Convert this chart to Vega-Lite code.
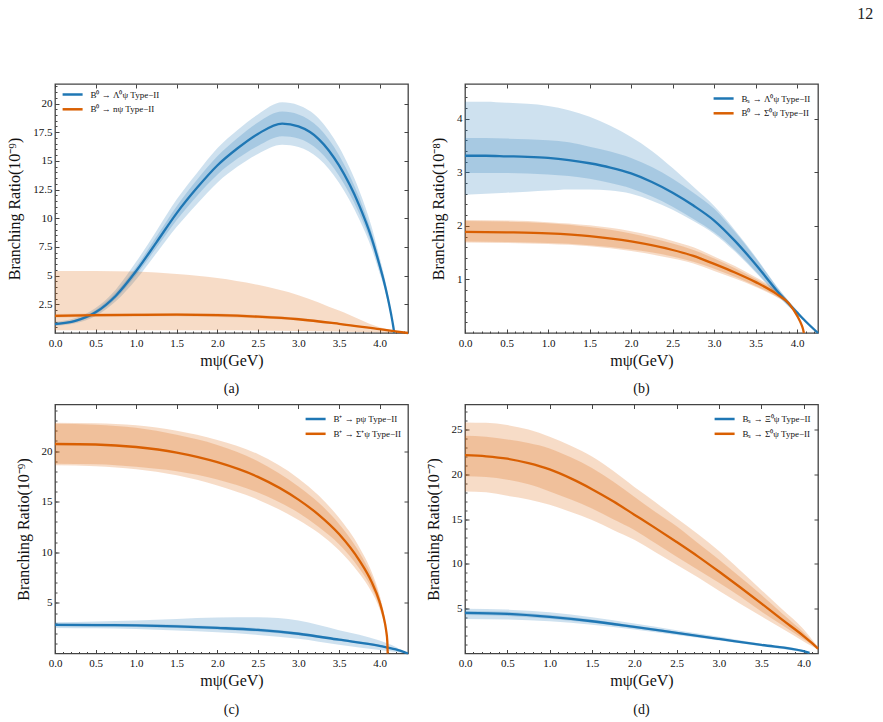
{
"$schema": "https://vega.github.io/schema/vega-lite/v6.json",
"background": "white",
"padding": {"left": 6, "top": 6, "right": 5, "bottom": 5},
"title": {"text": "12", "anchor": "end", "frame": "bounds", "fontSize": 16, "font": "Liberation Serif", "fontWeight": "normal", "color": "#222", "dx": 50, "offset": 60.5},
"config": {
  "font": "Liberation Serif",
  "view": {"stroke": "#444", "strokeWidth": 1.3},
  "axis": {"domain": false, "grid": false, "labelFont": "Liberation Serif", "labelFontSize": 11, "labelColor": "#111", "titleFont": "Liberation Serif", "titleFontSize": 16, "titleFontWeight": "normal", "titleColor": "#111", "tickColor": "#444", "tickWidth": 1, "labelFlush": false, "labelOverlap": false},
  "legend": {"labelFont": "Liberation Serif", "labelFontSize": 9, "labelColor": "#111", "symbolType": "M-1.667,0H1.667", "symbolStrokeWidth": 2.5, "symbolSize": 144, "symbolOffset": 7.1, "rowPadding": 1.8, "padding": 0, "offset": 5.7, "labelOffset": 10.3}
},
"resolve": {"scale": {"color": "independent", "fill": "independent"}},
"columns": 2,
"spacing": {"row": 5.5, "column": 10},
"datasets": {"d": [
{"p":"a","s":"B⁰ → Λ⁰ψ Type−II","x":0,"y":0.78,"l1":0.62,"h1":0.98,"l2":0.7,"h2":0.88},
{"p":"a","s":"B⁰ → Λ⁰ψ Type−II","x":0.25,"y":1.05,"l1":0.84,"h1":1.3,"l2":0.95,"h2":1.16},
{"p":"a","s":"B⁰ → Λ⁰ψ Type−II","x":0.5,"y":1.8,"l1":1.48,"h1":2.18,"l2":1.64,"h2":1.98},
{"p":"a","s":"B⁰ → Λ⁰ψ Type−II","x":0.75,"y":3.25,"l1":2.76,"h1":3.8,"l2":3.0,"h2":3.52},
{"p":"a","s":"B⁰ → Λ⁰ψ Type−II","x":1,"y":5.4,"l1":4.66,"h1":6.2,"l2":5.05,"h2":5.75},
{"p":"a","s":"B⁰ → Λ⁰ψ Type−II","x":1.25,"y":7.9,"l1":6.95,"h1":8.9,"l2":7.42,"h2":8.4},
{"p":"a","s":"B⁰ → Λ⁰ψ Type−II","x":1.5,"y":10.45,"l1":9.25,"h1":11.65,"l2":9.85,"h2":11.05},
{"p":"a","s":"B⁰ → Λ⁰ψ Type−II","x":1.75,"y":12.65,"l1":11.25,"h1":13.95,"l2":11.95,"h2":13.35},
{"p":"a","s":"B⁰ → Λ⁰ψ Type−II","x":2,"y":14.6,"l1":13.1,"h1":16.1,"l2":13.8,"h2":15.4},
{"p":"a","s":"B⁰ → Λ⁰ψ Type−II","x":2.25,"y":16.1,"l1":14.5,"h1":17.7,"l2":15.2,"h2":17.0},
{"p":"a","s":"B⁰ → Λ⁰ψ Type−II","x":2.5,"y":17.35,"l1":15.6,"h1":19.05,"l2":16.3,"h2":18.35},
{"p":"a","s":"B⁰ → Λ⁰ψ Type−II","x":2.8,"y":18.25,"l1":16.4,"h1":20.1,"l2":17.15,"h2":19.3},
{"p":"a","s":"B⁰ → Λ⁰ψ Type−II","x":3,"y":18.0,"l1":16.2,"h1":19.85,"l2":16.95,"h2":19.05},
{"p":"a","s":"B⁰ → Λ⁰ψ Type−II","x":3.25,"y":16.9,"l1":15.2,"h1":18.7,"l2":15.9,"h2":17.9},
{"p":"a","s":"B⁰ → Λ⁰ψ Type−II","x":3.5,"y":14.6,"l1":13.1,"h1":16.2,"l2":13.7,"h2":15.5},
{"p":"a","s":"B⁰ → Λ⁰ψ Type−II","x":3.75,"y":11.1,"l1":9.9,"h1":12.4,"l2":10.4,"h2":11.8},
{"p":"a","s":"B⁰ → Λ⁰ψ Type−II","x":3.9,"y":8.3,"l1":7.4,"h1":9.3,"l2":7.8,"h2":8.8},
{"p":"a","s":"B⁰ → Λ⁰ψ Type−II","x":4,"y":5.9,"l1":5.2,"h1":6.6,"l2":5.5,"h2":6.3},
{"p":"a","s":"B⁰ → Λ⁰ψ Type−II","x":4.05,"y":4.6,"l1":4.1,"h1":5.2,"l2":4.3,"h2":4.9},
{"p":"a","s":"B⁰ → Λ⁰ψ Type−II","x":4.1,"y":3.1,"l1":2.7,"h1":3.5,"l2":2.9,"h2":3.3},
{"p":"a","s":"B⁰ → Λ⁰ψ Type−II","x":4.14,"y":1.7,"l1":1.5,"h1":1.9,"l2":1.6,"h2":1.8},
{"p":"a","s":"B⁰ → Λ⁰ψ Type−II","x":4.17,"y":0.5,"l1":0.4,"h1":0.6,"l2":0.45,"h2":0.55},
{"p":"a","s":"B⁰ → Λ⁰ψ Type−II","x":4.18,"y":0,"l1":0,"h1":0,"l2":0,"h2":0},
{"p":"a","s":"B⁰ → nψ Type−II","x":0,"y":1.5,"l1":0.25,"h1":5.4,"l2":1.36,"h2":1.66},
{"p":"a","s":"B⁰ → nψ Type−II","x":0.5,"y":1.55,"l1":0.25,"h1":5.4,"l2":1.4,"h2":1.7},
{"p":"a","s":"B⁰ → nψ Type−II","x":1,"y":1.58,"l1":0.25,"h1":5.35,"l2":1.43,"h2":1.73},
{"p":"a","s":"B⁰ → nψ Type−II","x":1.5,"y":1.6,"l1":0.25,"h1":5.15,"l2":1.45,"h2":1.75},
{"p":"a","s":"B⁰ → nψ Type−II","x":2,"y":1.55,"l1":0.24,"h1":4.8,"l2":1.4,"h2":1.7},
{"p":"a","s":"B⁰ → nψ Type−II","x":2.5,"y":1.42,"l1":0.22,"h1":4.2,"l2":1.28,"h2":1.56},
{"p":"a","s":"B⁰ → nψ Type−II","x":3,"y":1.2,"l1":0.18,"h1":3.3,"l2":1.08,"h2":1.32},
{"p":"a","s":"B⁰ → nψ Type−II","x":3.5,"y":0.8,"l1":0.12,"h1":1.95,"l2":0.72,"h2":0.88},
{"p":"a","s":"B⁰ → nψ Type−II","x":4,"y":0.33,"l1":0.05,"h1":0.5,"l2":0.3,"h2":0.37},
{"p":"a","s":"B⁰ → nψ Type−II","x":4.35,"y":0,"l1":0,"h1":0,"l2":0,"h2":0},
{"p":"b","s":"Bₛ → Λ⁰ψ Type−II","x":0,"y":3.31,"l1":2.58,"h1":4.32,"l2":2.99,"h2":3.64},
{"p":"b","s":"Bₛ → Λ⁰ψ Type−II","x":0.25,"y":3.31,"l1":2.6,"h1":4.32,"l2":2.99,"h2":3.64},
{"p":"b","s":"Bₛ → Λ⁰ψ Type−II","x":0.5,"y":3.3,"l1":2.62,"h1":4.3,"l2":2.99,"h2":3.63},
{"p":"b","s":"Bₛ → Λ⁰ψ Type−II","x":0.75,"y":3.29,"l1":2.64,"h1":4.28,"l2":2.98,"h2":3.62},
{"p":"b","s":"Bₛ → Λ⁰ψ Type−II","x":1,"y":3.27,"l1":2.66,"h1":4.24,"l2":2.96,"h2":3.6},
{"p":"b","s":"Bₛ → Λ⁰ψ Type−II","x":1.25,"y":3.23,"l1":2.68,"h1":4.16,"l2":2.93,"h2":3.56},
{"p":"b","s":"Bₛ → Λ⁰ψ Type−II","x":1.5,"y":3.17,"l1":2.68,"h1":4.04,"l2":2.88,"h2":3.48},
{"p":"b","s":"Bₛ → Λ⁰ψ Type−II","x":1.75,"y":3.09,"l1":2.66,"h1":3.87,"l2":2.8,"h2":3.39},
{"p":"b","s":"Bₛ → Λ⁰ψ Type−II","x":2,"y":2.98,"l1":2.6,"h1":3.66,"l2":2.7,"h2":3.27},
{"p":"b","s":"Bₛ → Λ⁰ψ Type−II","x":2.25,"y":2.82,"l1":2.47,"h1":3.4,"l2":2.55,"h2":3.1},
{"p":"b","s":"Bₛ → Λ⁰ψ Type−II","x":2.5,"y":2.62,"l1":2.3,"h1":3.08,"l2":2.36,"h2":2.88},
{"p":"b","s":"Bₛ → Λ⁰ψ Type−II","x":2.75,"y":2.38,"l1":2.09,"h1":2.73,"l2":2.13,"h2":2.62},
{"p":"b","s":"Bₛ → Λ⁰ψ Type−II","x":3,"y":2.1,"l1":1.85,"h1":2.37,"l2":1.88,"h2":2.32},
{"p":"b","s":"Bₛ → Λ⁰ψ Type−II","x":3.25,"y":1.72,"l1":1.52,"h1":1.92,"l2":1.55,"h2":1.89},
{"p":"b","s":"Bₛ → Λ⁰ψ Type−II","x":3.5,"y":1.28,"l1":1.13,"h1":1.42,"l2":1.15,"h2":1.4},
{"p":"b","s":"Bₛ → Λ⁰ψ Type−II","x":3.75,"y":0.8,"l1":0.72,"h1":0.88,"l2":0.73,"h2":0.87},
{"p":"b","s":"Bₛ → Λ⁰ψ Type−II","x":4,"y":0.38,"l1":0.34,"h1":0.42,"l2":0.35,"h2":0.41},
{"p":"b","s":"Bₛ → Λ⁰ψ Type−II","x":4.1,"y":0.22,"l1":0.2,"h1":0.24,"l2":0.2,"h2":0.24},
{"p":"b","s":"Bₛ → Λ⁰ψ Type−II","x":4.25,"y":0,"l1":0,"h1":0,"l2":0,"h2":0},
{"p":"b","s":"B⁰ → Σ⁰ψ Type−II","x":0,"y":1.89,"l1":1.69,"h1":2.11,"l2":1.71,"h2":2.09},
{"p":"b","s":"B⁰ → Σ⁰ψ Type−II","x":0.5,"y":1.88,"l1":1.68,"h1":2.1,"l2":1.7,"h2":2.08},
{"p":"b","s":"B⁰ → Σ⁰ψ Type−II","x":1,"y":1.86,"l1":1.66,"h1":2.07,"l2":1.68,"h2":2.05},
{"p":"b","s":"B⁰ → Σ⁰ψ Type−II","x":1.5,"y":1.81,"l1":1.62,"h1":2.01,"l2":1.64,"h2":1.98},
{"p":"b","s":"B⁰ → Σ⁰ψ Type−II","x":2,"y":1.71,"l1":1.53,"h1":1.9,"l2":1.56,"h2":1.86},
{"p":"b","s":"B⁰ → Σ⁰ψ Type−II","x":2.5,"y":1.55,"l1":1.39,"h1":1.72,"l2":1.43,"h2":1.67},
{"p":"b","s":"B⁰ → Σ⁰ψ Type−II","x":2.75,"y":1.44,"l1":1.3,"h1":1.6,"l2":1.33,"h2":1.55},
{"p":"b","s":"B⁰ → Σ⁰ψ Type−II","x":3,"y":1.29,"l1":1.16,"h1":1.43,"l2":1.2,"h2":1.39},
{"p":"b","s":"B⁰ → Σ⁰ψ Type−II","x":3.25,"y":1.13,"l1":1.02,"h1":1.25,"l2":1.05,"h2":1.21},
{"p":"b","s":"B⁰ → Σ⁰ψ Type−II","x":3.5,"y":0.95,"l1":0.86,"h1":1.04,"l2":0.88,"h2":1.01},
{"p":"b","s":"B⁰ → Σ⁰ψ Type−II","x":3.75,"y":0.73,"l1":0.67,"h1":0.8,"l2":0.68,"h2":0.78},
{"p":"b","s":"B⁰ → Σ⁰ψ Type−II","x":3.9,"y":0.55,"l1":0.51,"h1":0.59,"l2":0.52,"h2":0.58},
{"p":"b","s":"B⁰ → Σ⁰ψ Type−II","x":4,"y":0.32,"l1":0.3,"h1":0.35,"l2":0.3,"h2":0.34},
{"p":"b","s":"B⁰ → Σ⁰ψ Type−II","x":4.05,"y":0.16,"l1":0.15,"h1":0.17,"l2":0.15,"h2":0.17},
{"p":"b","s":"B⁰ → Σ⁰ψ Type−II","x":4.07,"y":0.07,"l1":0.06,"h1":0.08,"l2":0.06,"h2":0.08},
{"p":"b","s":"B⁰ → Σ⁰ψ Type−II","x":4.08,"y":0,"l1":0,"h1":0,"l2":0,"h2":0},
{"p":"c","s":"B⁺ → pψ Type−II","x":0,"y":2.83,"l1":2.53,"h1":3.09,"l2":2.68,"h2":2.98},
{"p":"c","s":"B⁺ → pψ Type−II","x":0.5,"y":2.81,"l1":2.49,"h1":3.17,"l2":2.66,"h2":2.96},
{"p":"c","s":"B⁺ → pψ Type−II","x":1,"y":2.77,"l1":2.43,"h1":3.26,"l2":2.61,"h2":2.92},
{"p":"c","s":"B⁺ → pψ Type−II","x":1.5,"y":2.68,"l1":2.28,"h1":3.42,"l2":2.52,"h2":2.84},
{"p":"c","s":"B⁺ → pψ Type−II","x":2,"y":2.53,"l1":2.1,"h1":3.55,"l2":2.37,"h2":2.7},
{"p":"c","s":"B⁺ → pψ Type−II","x":2.5,"y":2.33,"l1":1.84,"h1":3.58,"l2":2.16,"h2":2.5},
{"p":"c","s":"B⁺ → pψ Type−II","x":3,"y":1.95,"l1":1.45,"h1":3.26,"l2":1.8,"h2":2.1},
{"p":"c","s":"B⁺ → pψ Type−II","x":3.5,"y":1.36,"l1":0.86,"h1":2.3,"l2":1.24,"h2":1.48},
{"p":"c","s":"B⁺ → pψ Type−II","x":4,"y":0.76,"l1":0.35,"h1":1.28,"l2":0.68,"h2":0.85},
{"p":"c","s":"B⁺ → pψ Type−II","x":4.2,"y":0.4,"l1":0.15,"h1":0.65,"l2":0.35,"h2":0.45},
{"p":"c","s":"B⁺ → pψ Type−II","x":4.35,"y":0,"l1":0,"h1":0,"l2":0,"h2":0},
{"p":"c","s":"B⁺ → Σ⁺ψ Type−II","x":0,"y":20.7,"l1":18.6,"h1":22.8,"l2":18.75,"h2":22.7},
{"p":"c","s":"B⁺ → Σ⁺ψ Type−II","x":0.5,"y":20.65,"l1":18.5,"h1":22.75,"l2":18.7,"h2":22.6},
{"p":"c","s":"B⁺ → Σ⁺ψ Type−II","x":1,"y":20.4,"l1":18.2,"h1":22.55,"l2":18.45,"h2":22.3},
{"p":"c","s":"B⁺ → Σ⁺ψ Type−II","x":1.5,"y":19.85,"l1":17.6,"h1":22.0,"l2":18.0,"h2":21.6},
{"p":"c","s":"B⁺ → Σ⁺ψ Type−II","x":2,"y":18.9,"l1":16.6,"h1":21.1,"l2":17.2,"h2":20.6},
{"p":"c","s":"B⁺ → Σ⁺ψ Type−II","x":2.5,"y":17.45,"l1":15.2,"h1":19.7,"l2":15.9,"h2":19.0},
{"p":"c","s":"B⁺ → Σ⁺ψ Type−II","x":3,"y":15.2,"l1":13.2,"h1":17.3,"l2":13.9,"h2":16.5},
{"p":"c","s":"B⁺ → Σ⁺ψ Type−II","x":3.25,"y":13.7,"l1":11.9,"h1":15.6,"l2":12.5,"h2":14.9},
{"p":"c","s":"B⁺ → Σ⁺ψ Type−II","x":3.5,"y":11.8,"l1":10.2,"h1":13.4,"l2":10.8,"h2":12.8},
{"p":"c","s":"B⁺ → Σ⁺ψ Type−II","x":3.75,"y":9.2,"l1":7.9,"h1":10.5,"l2":8.4,"h2":10.0},
{"p":"c","s":"B⁺ → Σ⁺ψ Type−II","x":3.9,"y":7.1,"l1":6.1,"h1":8.1,"l2":6.5,"h2":7.7},
{"p":"c","s":"B⁺ → Σ⁺ψ Type−II","x":4,"y":5.1,"l1":4.4,"h1":5.8,"l2":4.65,"h2":5.55},
{"p":"c","s":"B⁺ → Σ⁺ψ Type−II","x":4.05,"y":3.6,"l1":3.1,"h1":4.1,"l2":3.3,"h2":3.9},
{"p":"c","s":"B⁺ → Σ⁺ψ Type−II","x":4.08,"y":2.3,"l1":2.0,"h1":2.6,"l2":2.1,"h2":2.5},
{"p":"c","s":"B⁺ → Σ⁺ψ Type−II","x":4.095,"y":1.2,"l1":1.0,"h1":1.4,"l2":1.1,"h2":1.3},
{"p":"c","s":"B⁺ → Σ⁺ψ Type−II","x":4.1,"y":0,"l1":0,"h1":0,"l2":0,"h2":0},
{"p":"d","s":"Bₛ → Ξ⁰ψ Type−II","x":0,"y":4.53,"l1":3.86,"h1":5.0,"l2":4.3,"h2":4.75},
{"p":"d","s":"Bₛ → Ξ⁰ψ Type−II","x":0.5,"y":4.42,"l1":3.8,"h1":4.9,"l2":4.2,"h2":4.65},
{"p":"d","s":"Bₛ → Ξ⁰ψ Type−II","x":1,"y":4.08,"l1":3.6,"h1":4.6,"l2":3.88,"h2":4.3},
{"p":"d","s":"Bₛ → Ξ⁰ψ Type−II","x":1.5,"y":3.6,"l1":3.2,"h1":4.05,"l2":3.42,"h2":3.8},
{"p":"d","s":"Bₛ → Ξ⁰ψ Type−II","x":2,"y":2.97,"l1":2.67,"h1":3.34,"l2":2.82,"h2":3.13},
{"p":"d","s":"Bₛ → Ξ⁰ψ Type−II","x":2.5,"y":2.3,"l1":2.06,"h1":2.6,"l2":2.18,"h2":2.43},
{"p":"d","s":"Bₛ → Ξ⁰ψ Type−II","x":3,"y":1.63,"l1":1.45,"h1":1.86,"l2":1.54,"h2":1.73},
{"p":"d","s":"Bₛ → Ξ⁰ψ Type−II","x":3.5,"y":0.96,"l1":0.82,"h1":1.1,"l2":0.9,"h2":1.02},
{"p":"d","s":"Bₛ → Ξ⁰ψ Type−II","x":4,"y":0.26,"l1":0.15,"h1":0.37,"l2":0.22,"h2":0.3},
{"p":"d","s":"Bₛ → Ξ⁰ψ Type−II","x":4.07,"y":0.07,"l1":0.03,"h1":0.1,"l2":0.05,"h2":0.09},
{"p":"d","s":"Bₛ → Σ⁰ψ Type−II","x":0,"y":22.15,"l1":18.1,"h1":25.8,"l2":19.8,"h2":24.3},
{"p":"d","s":"Bₛ → Σ⁰ψ Type−II","x":0.25,"y":22.02,"l1":18.0,"h1":25.75,"l2":19.7,"h2":24.2},
{"p":"d","s":"Bₛ → Σ⁰ψ Type−II","x":0.5,"y":21.75,"l1":17.6,"h1":25.5,"l2":19.4,"h2":23.9},
{"p":"d","s":"Bₛ → Σ⁰ψ Type−II","x":0.75,"y":21.25,"l1":17.2,"h1":25.0,"l2":18.9,"h2":23.5},
{"p":"d","s":"Bₛ → Σ⁰ψ Type−II","x":1,"y":20.55,"l1":16.6,"h1":24.2,"l2":18.1,"h2":22.9},
{"p":"d","s":"Bₛ → Σ⁰ψ Type−II","x":1.25,"y":19.55,"l1":15.8,"h1":23.2,"l2":17.2,"h2":21.9},
{"p":"d","s":"Bₛ → Σ⁰ψ Type−II","x":1.5,"y":18.35,"l1":14.9,"h1":22.0,"l2":16.2,"h2":20.7},
{"p":"d","s":"Bₛ → Σ⁰ψ Type−II","x":1.75,"y":17.0,"l1":13.8,"h1":20.4,"l2":15.0,"h2":19.2},
{"p":"d","s":"Bₛ → Σ⁰ψ Type−II","x":2,"y":15.5,"l1":12.7,"h1":18.6,"l2":13.8,"h2":17.5},
{"p":"d","s":"Bₛ → Σ⁰ψ Type−II","x":2.25,"y":14.0,"l1":11.3,"h1":16.9,"l2":12.3,"h2":15.8},
{"p":"d","s":"Bₛ → Σ⁰ψ Type−II","x":2.5,"y":12.45,"l1":9.9,"h1":15.1,"l2":10.8,"h2":14.2},
{"p":"d","s":"Bₛ → Σ⁰ψ Type−II","x":2.75,"y":10.85,"l1":8.5,"h1":13.35,"l2":9.35,"h2":12.35},
{"p":"d","s":"Bₛ → Σ⁰ψ Type−II","x":3,"y":9.15,"l1":7.0,"h1":11.45,"l2":7.9,"h2":10.5},
{"p":"d","s":"Bₛ → Σ⁰ψ Type−II","x":3.25,"y":7.4,"l1":5.55,"h1":9.3,"l2":6.35,"h2":8.55},
{"p":"d","s":"Bₛ → Σ⁰ψ Type−II","x":3.5,"y":5.6,"l1":4.15,"h1":7.1,"l2":4.7,"h2":6.55},
{"p":"d","s":"Bₛ → Σ⁰ψ Type−II","x":3.75,"y":3.75,"l1":2.75,"h1":4.9,"l2":3.15,"h2":4.45},
{"p":"d","s":"Bₛ → Σ⁰ψ Type−II","x":4,"y":1.95,"l1":1.35,"h1":2.7,"l2":1.6,"h2":2.35},
{"p":"d","s":"Bₛ → Σ⁰ψ Type−II","x":4.1,"y":1.15,"l1":0.8,"h1":1.55,"l2":0.95,"h2":1.38},
{"p":"d","s":"Bₛ → Σ⁰ψ Type−II","x":4.17,"y":0.55,"l1":0.4,"h1":0.72,"l2":0.46,"h2":0.64}
]},
"concat": [
{
 "width": 353, "height": 249,
 "title": {"text": "(a)", "orient": "bottom", "offset": 14, "frame": "group", "anchor": "middle", "fontSize": 14, "fontWeight": "normal", "font": "Liberation Serif", "color": "#111"},
 "data": {"name": "d"},
 "transform": [{"filter": "datum.p == 'a'"}],
 "resolve": {"axis": {"x": "independent", "y": "independent"}},
 "layer": [
  {"mark": {"type": "area", "interpolate": "monotone", "fillOpacity": 0.22},
   "encoding": {
    "x": {"field": "x", "type": "quantitative", "scale": {"domain": [0, 4.35], "nice": false, "zero": false}, "axis": {"orient": "bottom", "values": [0,0.5,1,1.5,2,2.5,3,3.5,4], "format": ".1f", "tickSize": -4, "labelPadding": 8, "title": "mψ(GeV)", "titlePadding": 4}},
    "y": {"field": "l1", "type": "quantitative", "scale": {"domain": [0, 21.7], "nice": false}, "axis": {"orient": "left", "values": [2.5,5,7.5,10,12.5,15,17.5,20], "format": ".3~g", "tickSize": -4, "labelPadding": 7, "title": "Branching Ratio(10⁻⁹)", "titlePadding": 10}},
    "y2": {"field": "h1"},
    "fill": {"field": "s", "type": "nominal", "scale": {"domain": ["B⁰ → nψ Type−II", "B⁰ → Λ⁰ψ Type−II"], "range": ["#d95f02", "#1f77b4"]}, "legend": null}
   }},
  {"mark": {"type": "area", "interpolate": "monotone", "fillOpacity": 0.22},
   "encoding": {
    "x": {"field": "x", "type": "quantitative", "scale": {"domain": [0, 4.35], "nice": false, "zero": false}, "axis": {"orient": "bottom", "values": [0.1,0.2,0.3,0.4,0.5,0.6,0.7,0.8,0.9,1,1.1,1.2,1.3,1.4,1.5,1.6,1.7,1.8,1.9,2,2.1,2.2,2.3,2.4,2.5,2.6,2.7,2.8,2.9,3,3.1,3.2,3.3,3.4,3.5,3.6,3.7,3.8,3.9,4,4.1,4.2,4.3], "labels": false, "tickSize": -2, "title": null}},
    "y": {"field": "l2", "type": "quantitative", "scale": {"domain": [0, 21.7], "nice": false}, "axis": {"orient": "left", "values": [0.5,1,1.5,2,2.5,3,3.5,4,4.5,5,5.5,6,6.5,7,7.5,8,8.5,9,9.5,10,10.5,11,11.5,12,12.5,13,13.5,14,14.5,15,15.5,16,16.5,17,17.5,18,18.5,19,19.5,20,20.5,21,21.5], "labels": false, "tickSize": -2, "title": null}},
    "y2": {"field": "h2"},
    "fill": {"field": "s", "type": "nominal", "scale": {"domain": ["B⁰ → nψ Type−II", "B⁰ → Λ⁰ψ Type−II"], "range": ["#d95f02", "#1f77b4"]}, "legend": null}
   }},
  {"mark": {"type": "line", "interpolate": "monotone", "strokeWidth": 2.3},
   "encoding": {
    "x": {"field": "x", "type": "quantitative", "scale": {"domain": [0, 4.35], "nice": false, "zero": false}, "axis": {"orient": "top", "values": [0,0.5,1,1.5,2,2.5,3,3.5,4], "labels": false, "tickSize": -4, "title": null}},
    "y": {"field": "y", "type": "quantitative", "scale": {"domain": [0, 21.7], "nice": false}, "axis": {"orient": "right", "values": [2.5,5,7.5,10,12.5,15,17.5,20], "labels": false, "tickSize": -4, "title": null}},
    "color": {"field": "s", "type": "nominal", "scale": {"domain": ["B⁰ → Λ⁰ψ Type−II", "B⁰ → nψ Type−II"], "range": ["#1f77b4", "#d95f02"]}, "legend": {"orient": "top-left", "title": null, "offset": 3.4}}
   }}
 ]
},
{
 "width": 353, "height": 249,
 "title": {"text": "(b)", "orient": "bottom", "offset": 14, "frame": "group", "anchor": "middle", "fontSize": 14, "fontWeight": "normal", "font": "Liberation Serif", "color": "#111"},
 "data": {"name": "d"},
 "transform": [{"filter": "datum.p == 'b'"}],
 "resolve": {"axis": {"x": "independent", "y": "independent"}},
 "layer": [
  {"mark": {"type": "area", "interpolate": "monotone", "fillOpacity": 0.22},
   "encoding": {
    "x": {"field": "x", "type": "quantitative", "scale": {"domain": [0, 4.25], "nice": false, "zero": false}, "axis": {"orient": "bottom", "values": [0,0.5,1,1.5,2,2.5,3,3.5,4], "format": ".1f", "tickSize": -4, "labelPadding": 8, "title": "mψ(GeV)", "titlePadding": 4}},
    "y": {"field": "l1", "type": "quantitative", "scale": {"domain": [0, 4.65], "nice": false}, "axis": {"orient": "left", "values": [1,2,3,4], "format": ".3~g", "tickSize": -4, "labelPadding": 7, "title": "Branching Ratio(10⁻⁸)", "titlePadding": 10}},
    "y2": {"field": "h1"},
    "fill": {"field": "s", "type": "nominal", "scale": {"domain": ["B⁰ → Σ⁰ψ Type−II", "Bₛ → Λ⁰ψ Type−II"], "range": ["#d95f02", "#1f77b4"]}, "legend": null}
   }},
  {"mark": {"type": "area", "interpolate": "monotone", "fillOpacity": 0.22},
   "encoding": {
    "x": {"field": "x", "type": "quantitative", "scale": {"domain": [0, 4.25], "nice": false, "zero": false}, "axis": {"orient": "bottom", "values": [0.1,0.2,0.3,0.4,0.5,0.6,0.7,0.8,0.9,1,1.1,1.2,1.3,1.4,1.5,1.6,1.7,1.8,1.9,2,2.1,2.2,2.3,2.4,2.5,2.6,2.7,2.8,2.9,3,3.1,3.2,3.3,3.4,3.5,3.6,3.7,3.8,3.9,4,4.1,4.2], "labels": false, "tickSize": -2, "title": null}},
    "y": {"field": "l2", "type": "quantitative", "scale": {"domain": [0, 4.65], "nice": false}, "axis": {"orient": "left", "values": [0.2,0.4,0.6,0.8,1,1.2,1.4,1.6,1.8,2,2.2,2.4,2.6,2.8,3,3.2,3.4,3.6,3.8,4,4.2,4.4,4.6], "labels": false, "tickSize": -2, "title": null}},
    "y2": {"field": "h2"},
    "fill": {"field": "s", "type": "nominal", "scale": {"domain": ["B⁰ → Σ⁰ψ Type−II", "Bₛ → Λ⁰ψ Type−II"], "range": ["#d95f02", "#1f77b4"]}, "legend": null}
   }},
  {"mark": {"type": "line", "interpolate": "monotone", "strokeWidth": 2.3},
   "encoding": {
    "x": {"field": "x", "type": "quantitative", "scale": {"domain": [0, 4.25], "nice": false, "zero": false}, "axis": {"orient": "top", "values": [0,0.5,1,1.5,2,2.5,3,3.5,4], "labels": false, "tickSize": -4, "title": null}},
    "y": {"field": "y", "type": "quantitative", "scale": {"domain": [0, 4.65], "nice": false}, "axis": {"orient": "right", "values": [1,2,3,4], "labels": false, "tickSize": -4, "title": null}},
    "color": {"field": "s", "type": "nominal", "scale": {"domain": ["Bₛ → Λ⁰ψ Type−II", "B⁰ → Σ⁰ψ Type−II"], "range": ["#1f77b4", "#d95f02"]}, "legend": {"orient": "top-right", "title": null, "offset": 7}}
   }}
 ]
},
{
 "width": 353, "height": 249,
 "title": {"text": "(c)", "orient": "bottom", "offset": 14, "frame": "group", "anchor": "middle", "fontSize": 14, "fontWeight": "normal", "font": "Liberation Serif", "color": "#111"},
 "data": {"name": "d"},
 "transform": [{"filter": "datum.p == 'c'"}],
 "resolve": {"axis": {"x": "independent", "y": "independent"}},
 "layer": [
  {"mark": {"type": "area", "interpolate": "monotone", "fillOpacity": 0.22},
   "encoding": {
    "x": {"field": "x", "type": "quantitative", "scale": {"domain": [0, 4.35], "nice": false, "zero": false}, "axis": {"orient": "bottom", "values": [0,0.5,1,1.5,2,2.5,3,3.5,4], "format": ".1f", "tickSize": -4, "labelPadding": 8, "title": "mψ(GeV)", "titlePadding": 4}},
    "y": {"field": "l1", "type": "quantitative", "scale": {"domain": [0, 24.6], "nice": false}, "axis": {"orient": "left", "values": [5,10,15,20], "format": ".3~g", "tickSize": -4, "labelPadding": 7, "title": "Branching Ratio(10⁻⁹)", "titlePadding": 10}},
    "y2": {"field": "h1"},
    "fill": {"field": "s", "type": "nominal", "scale": {"domain": ["B⁺ → Σ⁺ψ Type−II", "B⁺ → pψ Type−II"], "range": ["#d95f02", "#1f77b4"]}, "legend": null}
   }},
  {"mark": {"type": "area", "interpolate": "monotone", "fillOpacity": 0.22},
   "encoding": {
    "x": {"field": "x", "type": "quantitative", "scale": {"domain": [0, 4.35], "nice": false, "zero": false}, "axis": {"orient": "bottom", "values": [0.1,0.2,0.3,0.4,0.5,0.6,0.7,0.8,0.9,1,1.1,1.2,1.3,1.4,1.5,1.6,1.7,1.8,1.9,2,2.1,2.2,2.3,2.4,2.5,2.6,2.7,2.8,2.9,3,3.1,3.2,3.3,3.4,3.5,3.6,3.7,3.8,3.9,4,4.1,4.2,4.3], "labels": false, "tickSize": -2, "title": null}},
    "y": {"field": "l2", "type": "quantitative", "scale": {"domain": [0, 24.6], "nice": false}, "axis": {"orient": "left", "values": [1,2,3,4,5,6,7,8,9,10,11,12,13,14,15,16,17,18,19,20,21,22,23,24], "labels": false, "tickSize": -2, "title": null}},
    "y2": {"field": "h2"},
    "fill": {"field": "s", "type": "nominal", "scale": {"domain": ["B⁺ → Σ⁺ψ Type−II", "B⁺ → pψ Type−II"], "range": ["#d95f02", "#1f77b4"]}, "legend": null}
   }},
  {"mark": {"type": "line", "interpolate": "monotone", "strokeWidth": 2.3},
   "encoding": {
    "x": {"field": "x", "type": "quantitative", "scale": {"domain": [0, 4.35], "nice": false, "zero": false}, "axis": {"orient": "top", "values": [0,0.5,1,1.5,2,2.5,3,3.5,4], "labels": false, "tickSize": -4, "title": null}},
    "y": {"field": "y", "type": "quantitative", "scale": {"domain": [0, 24.6], "nice": false}, "axis": {"orient": "right", "values": [5,10,15,20], "labels": false, "tickSize": -4, "title": null}},
    "color": {"field": "s", "type": "nominal", "scale": {"domain": ["B⁺ → pψ Type−II", "B⁺ → Σ⁺ψ Type−II"], "range": ["#1f77b4", "#d95f02"]}, "legend": {"orient": "top-right", "title": null, "offset": 7}}
   }}
 ]
},
{
 "width": 353, "height": 249,
 "title": {"text": "(d)", "orient": "bottom", "offset": 14, "frame": "group", "anchor": "middle", "fontSize": 14, "fontWeight": "normal", "font": "Liberation Serif", "color": "#111"},
 "data": {"name": "d"},
 "transform": [{"filter": "datum.p == 'd'"}],
 "resolve": {"axis": {"x": "independent", "y": "independent"}},
 "layer": [
  {"mark": {"type": "area", "interpolate": "monotone", "fillOpacity": 0.22},
   "encoding": {
    "x": {"field": "x", "type": "quantitative", "scale": {"domain": [0, 4.17], "nice": false, "zero": false}, "axis": {"orient": "bottom", "values": [0,0.5,1,1.5,2,2.5,3,3.5,4], "format": ".1f", "tickSize": -4, "labelPadding": 8, "title": "mψ(GeV)", "titlePadding": 4}},
    "y": {"field": "l1", "type": "quantitative", "scale": {"domain": [0, 27.8], "nice": false}, "axis": {"orient": "left", "values": [5,10,15,20,25], "format": ".3~g", "tickSize": -4, "labelPadding": 7, "title": "Branching Ratio(10⁻⁷)", "titlePadding": 10}},
    "y2": {"field": "h1"},
    "fill": {"field": "s", "type": "nominal", "scale": {"domain": ["Bₛ → Σ⁰ψ Type−II", "Bₛ → Ξ⁰ψ Type−II"], "range": ["#d95f02", "#1f77b4"]}, "legend": null}
   }},
  {"mark": {"type": "area", "interpolate": "monotone", "fillOpacity": 0.22},
   "encoding": {
    "x": {"field": "x", "type": "quantitative", "scale": {"domain": [0, 4.17], "nice": false, "zero": false}, "axis": {"orient": "bottom", "values": [0.1,0.2,0.3,0.4,0.5,0.6,0.7,0.8,0.9,1,1.1,1.2,1.3,1.4,1.5,1.6,1.7,1.8,1.9,2,2.1,2.2,2.3,2.4,2.5,2.6,2.7,2.8,2.9,3,3.1,3.2,3.3,3.4,3.5,3.6,3.7,3.8,3.9,4,4.1], "labels": false, "tickSize": -2, "title": null}},
    "y": {"field": "l2", "type": "quantitative", "scale": {"domain": [0, 27.8], "nice": false}, "axis": {"orient": "left", "values": [1,2,3,4,5,6,7,8,9,10,11,12,13,14,15,16,17,18,19,20,21,22,23,24,25,26,27], "labels": false, "tickSize": -2, "title": null}},
    "y2": {"field": "h2"},
    "fill": {"field": "s", "type": "nominal", "scale": {"domain": ["Bₛ → Σ⁰ψ Type−II", "Bₛ → Ξ⁰ψ Type−II"], "range": ["#d95f02", "#1f77b4"]}, "legend": null}
   }},
  {"mark": {"type": "line", "interpolate": "monotone", "strokeWidth": 2.3},
   "encoding": {
    "x": {"field": "x", "type": "quantitative", "scale": {"domain": [0, 4.17], "nice": false, "zero": false}, "axis": {"orient": "top", "values": [0,0.5,1,1.5,2,2.5,3,3.5,4], "labels": false, "tickSize": -4, "title": null}},
    "y": {"field": "y", "type": "quantitative", "scale": {"domain": [0, 27.8], "nice": false}, "axis": {"orient": "right", "values": [5,10,15,20,25], "labels": false, "tickSize": -4, "title": null}},
    "color": {"field": "s", "type": "nominal", "scale": {"domain": ["Bₛ → Ξ⁰ψ Type−II", "Bₛ → Σ⁰ψ Type−II"], "range": ["#1f77b4", "#d95f02"]}, "legend": {"orient": "top-right", "title": null, "offset": 7}}
   }}
 ]
}
]
}
